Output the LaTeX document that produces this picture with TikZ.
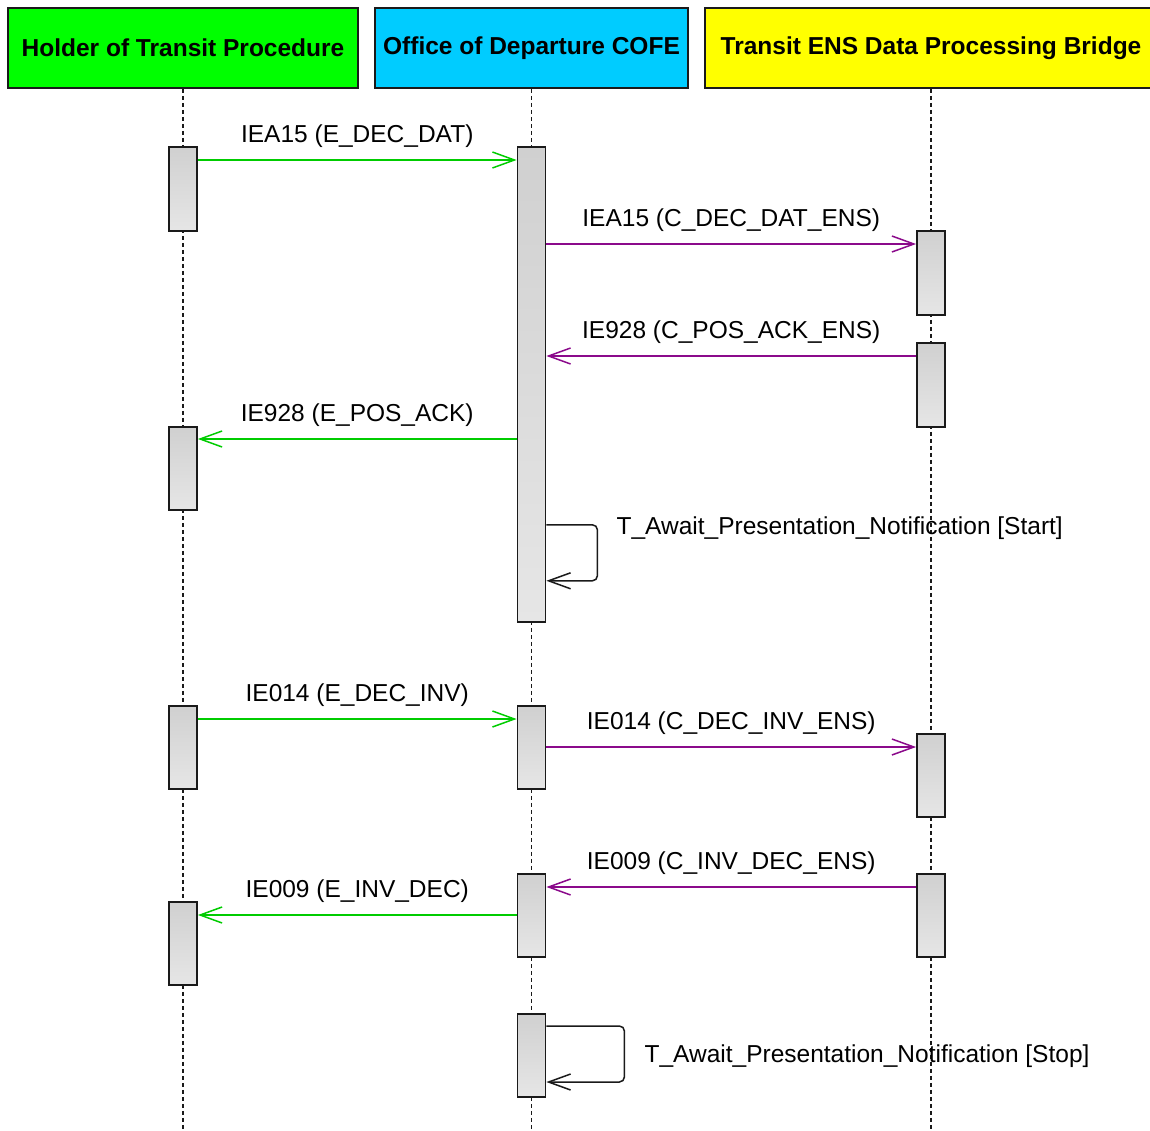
\documentclass[tikz,border=0pt]{standalone}
\usepackage{fontspec}
\setmainfont{Liberation Sans}
\usetikzlibrary{arrows.meta,positioning}
\definecolor{headgreen}{HTML}{00FF00}
\definecolor{headcyan}{HTML}{00CCFF}
\definecolor{headyellow}{HTML}{FFFF00}
\definecolor{msggreen}{HTML}{00CC00}
\definecolor{msgpurple}{HTML}{8B0A8B}
\definecolor{edge}{HTML}{1A1A1A}
\definecolor{acttop}{HTML}{D0D0D0}
\definecolor{actbot}{HTML}{E6E6E6}

\begin{document}
\begin{tikzpicture}[x=1pt, y=1pt, font=\fontsize{24.5}{29}\selectfont,
  head/.style={draw=edge, line width=1.8pt, minimum height=80pt, inner sep=0pt,
               font=\fontsize{24.5}{29}\selectfont\bfseries},
  act/.style={draw=edge, line width=1.8pt, top color=acttop, bottom color=actbot,
              minimum width=28pt, inner sep=0pt, anchor=north},
  life/.style={edge, line width=1.3pt, dash pattern=on 4pt off 3pt},
  gmsg/.style={msggreen, line width=1.5pt, -{Straight Barb[length=22pt,width=16pt]}},
  pmsg/.style={msgpurple, line width=1.5pt, -{Straight Barb[length=22pt,width=16pt]}},
  selfmsg/.style={edge, line width=1.5pt, rounded corners=5pt,
                  -{Straight Barb[length=22pt,width=16pt]}},
  lbl/.style={inner sep=0pt, above=12pt, text=black},
  note/.style={inner sep=0pt, anchor=west}
]
\useasboundingbox (0,0) rectangle (1150,-1131);
\coordinate (bot) at (0,-1131);

\node[head, fill=headgreen, minimum width=350pt] (holder) at (183,-48) {Holder of Transit Procedure};
\node[head, fill=headcyan, minimum width=313pt] (office) at (531.5,-48) {Office of Departure COFE};
\node[head, fill=headyellow, minimum width=452pt] (bridge) at (931,-48) {Transit ENS Data Processing Bridge};

\draw[life] (holder.south) -- (holder.south |- bot);
\draw[life] (office.south) -- (office.south |- bot);
\draw[life] (bridge.south) -- (bridge.south |- bot);

\node[act, minimum height=84pt] (ha) at (183,-146) {};
\node[act, minimum height=83pt] (hb) at (183,-426) {};
\node[act, minimum height=83pt] (hc) at (183,-705) {};
\node[act, minimum height=83pt] (hd) at (183,-901) {};
\node[act, minimum height=475pt] (oa) at (531.5,-146) {};
\node[act, minimum height=83pt] (ob) at (531.5,-705) {};
\node[act, minimum height=83pt] (oc) at (531.5,-873) {};
\node[act, minimum height=83pt] (od) at (531.5,-1013) {};
\node[act, minimum height=84pt] (ba) at (931,-230) {};
\node[act, minimum height=84pt] (bb) at (931,-342) {};
\node[act, minimum height=83pt] (bc) at (931,-733) {};
\node[act, minimum height=83pt] (bd) at (931,-873) {};

\coordinate (m1) at ([yshift=-14pt]ha.north east);
\coordinate (m2) at ([yshift=-14pt]ba.north west);
\coordinate (m3) at ([yshift=-14pt]bb.north west);
\coordinate (m4) at ([yshift=-13pt]hb.north east);
\coordinate (m6) at ([yshift=-14pt]hc.north east);
\coordinate (m7) at ([yshift=-14pt]bc.north west);
\coordinate (m8) at ([yshift=-14pt]bd.north west);
\coordinate (m9) at ([yshift=-14pt]hd.north east);

\draw[gmsg] (m1) -- (oa.west |- m1) node[lbl, midway] {IEA15 (E\_DEC\_DAT)};
\draw[pmsg] (oa.east |- m2) -- (m2) node[lbl, midway] {IEA15 (C\_DEC\_DAT\_ENS)};
\draw[pmsg] (m3) -- (oa.east |- m3) node[lbl, midway] {IE928 (C\_POS\_ACK\_ENS)};
\draw[gmsg] (oa.west |- m4) -- (m4) node[lbl, midway] {IE928 (E\_POS\_ACK)};

\coordinate (s1) at ([yshift=98pt]oa.south east);
\draw[selfmsg] (s1) -- ++(51pt,0) coordinate (s1r) -- ++(0,-56pt) -- ++(-51pt,0);
\node[note] (t1) at ([xshift=19pt,yshift=-3pt]s1r) {T\_Await\_Presentation\_Notification [Start]};

\draw[gmsg] (m6) -- (ob.west |- m6) node[lbl, midway] {IE014 (E\_DEC\_INV)};
\draw[pmsg] (ob.east |- m7) -- (m7) node[lbl, midway] {IE014 (C\_DEC\_INV\_ENS)};
\draw[pmsg] (m8) -- (oc.east |- m8) node[lbl, midway] {IE009 (C\_INV\_DEC\_ENS)};
\draw[gmsg] (oc.west |- m9) -- (m9) node[lbl, midway] {IE009 (E\_INV\_DEC)};

\coordinate (s2) at ([yshift=-13pt]od.north east);
\draw[selfmsg] (s2) -- ++(78pt,0) coordinate (s2r) -- ++(0,-56pt) -- ++(-78pt,0);
\node[note] (t2) at ([xshift=20pt,yshift=-30pt]s2r) {T\_Await\_Presentation\_Notification [Stop]};
\end{tikzpicture}
\end{document}
